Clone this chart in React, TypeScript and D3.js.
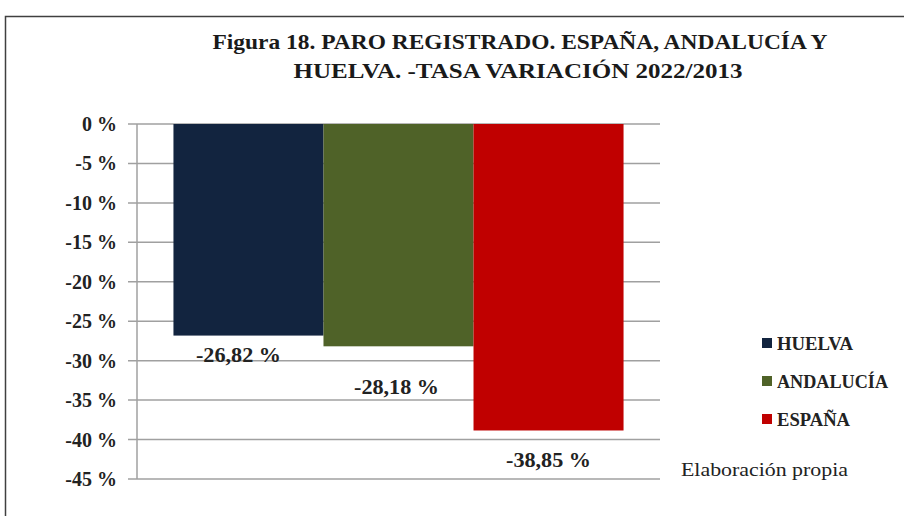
import React from "react";
import * as d3 from "d3";

const series = ["HUELVA", "ANDALUCÍA", "ESPAÑA"];
const values = [-26.82, -28.18, -38.85];
const valueLabels = ["-26,82 %", "-28,18 %", "-38,85 %"];
const colors = ["#12243f", "#4f6228", "#c00000"];
const ticks = [0, -5, -10, -15, -20, -25, -30, -35, -40, -45];
const titleLines = [
  "Figura 18. PARO REGISTRADO. ESPAÑA, ANDALUCÍA Y",
  "HUELVA. -TASA VARIACIÓN 2022/2013",
];

// layout-only constants
const labelDy = [26, 48, 37];
const labelDx = [-10, -2, 0];
const legendWidths = [76, 111, 73];

const W = 904;
const H = 516;
const serif = "'Liberation Serif', 'DejaVu Serif', serif";

export default function App() {
  const plotLeft = 137;
  const plotRight = 660;
  const y = d3.scaleLinear().domain([0, -45]).range([124, 479]);
  const x = d3
    .scaleBand<string>()
    .domain(series)
    .range([plotLeft, plotRight])
    .paddingInner(0)
    .paddingOuter(0.243);

  return (
    <svg
      width={W}
      height={H}
      style={{ position: "absolute", left: 0, top: 0, background: "#fff" }}
    >
      <rect x={0} y={0} width={W} height={H} fill="#fff" />
      <rect
        x={5.5}
        y={16.5}
        width={1000}
        height={700}
        fill="none"
        stroke="#404040"
        strokeWidth={1.5}
      />
      <text
        x={520}
        y={49}
        textAnchor="middle"
        fontFamily={serif}
        fontWeight="bold"
        fontSize={22}
        fill="#1a1a1a"
        textLength={615}
        lengthAdjust="spacingAndGlyphs"
      >
        {titleLines[0]}
      </text>
      <text
        x={518}
        y={78}
        textAnchor="middle"
        fontFamily={serif}
        fontWeight="bold"
        fontSize={22}
        fill="#1a1a1a"
        textLength={449}
        lengthAdjust="spacingAndGlyphs"
      >
        {titleLines[1]}
      </text>

      {ticks.map((t) => (
        <g key={t}>
          <line
            x1={128}
            x2={plotRight}
            y1={y(t)}
            y2={y(t)}
            stroke="#a0a0a0"
            strokeWidth={1.5}
          />
          <text
            x={117}
            y={y(t) + 7}
            textAnchor="end"
            fontFamily={serif}
            fontWeight="bold"
            fontSize={20}
            fill="#222"
          >
            {`${t} %`}
          </text>
        </g>
      ))}
      <line
        x1={plotLeft}
        x2={plotLeft}
        y1={y(0)}
        y2={y(-45)}
        stroke="#a0a0a0"
        strokeWidth={1.5}
      />

      {series.map((s, i) => (
        <g key={s}>
          <rect
            x={x(s)}
            y={y(0)}
            width={x.bandwidth()}
            height={y(values[i]) - y(0)}
            fill={colors[i]}
          />
          <text
            x={(x(s) as number) + x.bandwidth() / 2 + labelDx[i]}
            y={y(values[i]) + labelDy[i]}
            textAnchor="middle"
            fontFamily={serif}
            fontWeight="bold"
            fontSize={20}
            fill="#222"
            textLength={85}
            lengthAdjust="spacingAndGlyphs"
          >
            {valueLabels[i]}
          </text>
        </g>
      ))}

      {series.map((s, i) => (
        <g key={"lg" + s} transform={`translate(762, ${343 + i * 38})`}>
          <rect x={0} y={-5} width={10} height={10} fill={colors[i]} />
          <text
            x={15}
            y={6.5}
            fontFamily={serif}
            fontWeight="bold"
            fontSize={19}
            fill="#222"
            textLength={legendWidths[i]}
            lengthAdjust="spacingAndGlyphs"
          >
            {s}
          </text>
        </g>
      ))}

      <text
        x={681}
        y={476}
        fontFamily={serif}
        fontSize={19}
        fill="#222"
        textLength={167}
        lengthAdjust="spacingAndGlyphs"
      >
        Elaboración propia
      </text>
    </svg>
  );
}
